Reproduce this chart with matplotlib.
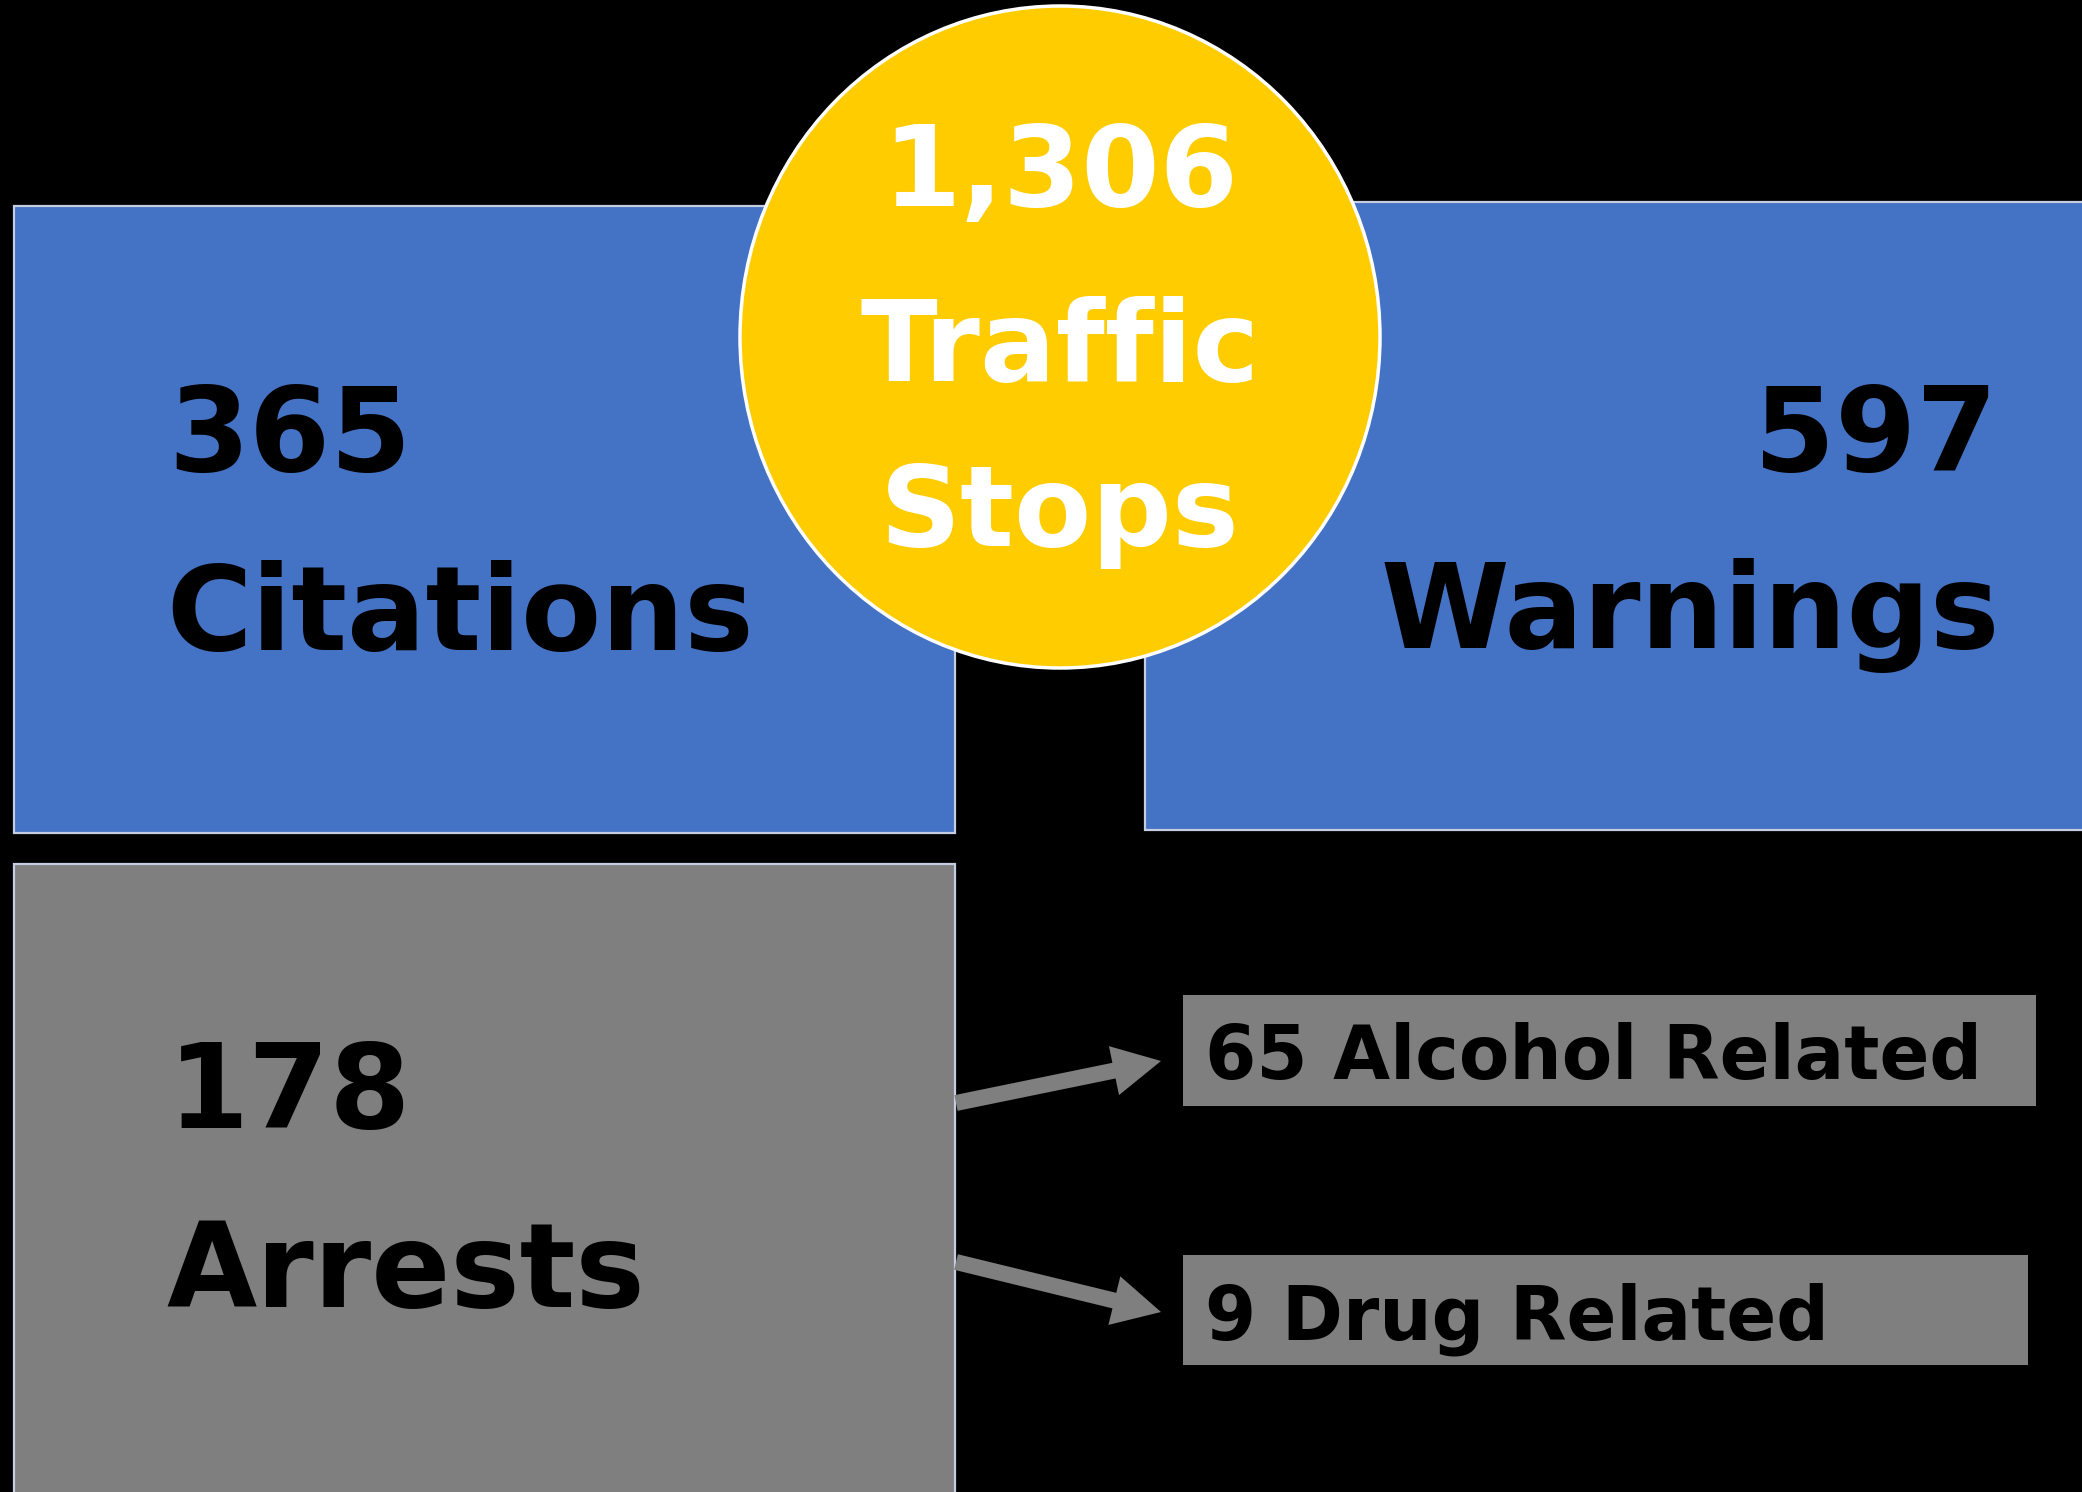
import matplotlib
matplotlib.use("Agg")
import matplotlib.pyplot as plt
from matplotlib.patches import Rectangle, Ellipse, FancyArrow

# counts shown on the infographic
total_stops = 1306
main_labels = ["Citations", "Warnings", "Arrests"]
main_counts = [365, 597, 178]
arrest_labels = ["Alcohol Related", "Drug Related"]
arrest_counts = [65, 9]

BLUE = "#4472c4"
GREY = "#7f7f7f"
YELLOW = "#ffcc00"
EDGE = "#c5cde3"

W, H = 2082, 1492
fig = plt.figure(figsize=(W / 100, H / 100), dpi=100, facecolor="black")
ax = fig.add_axes([0, 0, 1, 1])
ax.set_xlim(0, W)
ax.set_ylim(H, 0)
ax.set_aspect("equal")
ax.axis("off")
ax.set_facecolor("black")

plt.rc("font", family="DejaVu Sans", weight="bold")

# big boxes: (x, y, w, h, colour)
boxes = [
    (14, 206, 941, 627, BLUE),
    (1145, 202, 940, 628, BLUE),
    (14, 864, 941, 630, GREY),
]
for x, y, w, h, c in boxes:
    ax.add_patch(Rectangle((x, y), w, h, facecolor=c, edgecolor=EDGE, lw=1.6, zorder=1))

big = 84
# citations / arrests left aligned, warnings right aligned
ax.text(168, 471, f"{main_counts[0]}", fontsize=big, color="black", ha="left", va="baseline", zorder=3)
ax.text(166, 650, main_labels[0], fontsize=big, color="black", ha="left", va="baseline", zorder=3)
ax.text(1997, 471, f"{main_counts[1]}", fontsize=big, color="black", ha="right", va="baseline", zorder=3)
ax.text(2000, 648, main_labels[1], fontsize=big, color="black", ha="right", va="baseline", zorder=3)
ax.text(168, 1128, f"{main_counts[2]}", fontsize=big, color="black", ha="left", va="baseline", zorder=3)
ax.text(166, 1307, main_labels[2], fontsize=big, color="black", ha="left", va="baseline", zorder=3)

# centre circle (slightly taller than wide, as in the original)
ax.add_patch(Ellipse((1060, 337), 640, 662, facecolor=YELLOW, edgecolor="white", lw=2.5, zorder=4))
circ = 81
ax.text(1060, 206, f"{total_stops:,}", fontsize=circ, color="white", ha="center", va="baseline", zorder=5)
ax.text(1060, 381, "Traffic", fontsize=circ, color="white", ha="center", va="baseline", zorder=5)
ax.text(1060, 546, "Stops", fontsize=circ, color="white", ha="center", va="baseline", zorder=5)

# sub boxes for arrests
sub = [(1183, 995, 853, 111), (1183, 1255, 845, 110)]
for (x, y, w, h), lab, n in zip(sub, arrest_labels, arrest_counts):
    ax.add_patch(Rectangle((x, y), w, h, facecolor=GREY, edgecolor="none", zorder=1))
    ax.text(1205, y + h / 2 + 29, f"{n} {lab}", fontsize=53, color="black",
            ha="left", va="baseline", zorder=3)

# arrows from the arrests box
for (x0, y0), (x1, y1) in [((956, 1103), (1161, 1061)), ((956, 1262), (1161, 1312))]:
    ax.add_patch(FancyArrow(x0, y0, x1 - x0, y1 - y0, width=16, head_width=50,
                            head_length=48, length_includes_head=True,
                            facecolor=GREY, edgecolor="none", zorder=2))

fig.savefig("out.png", dpi=100, facecolor="black")
